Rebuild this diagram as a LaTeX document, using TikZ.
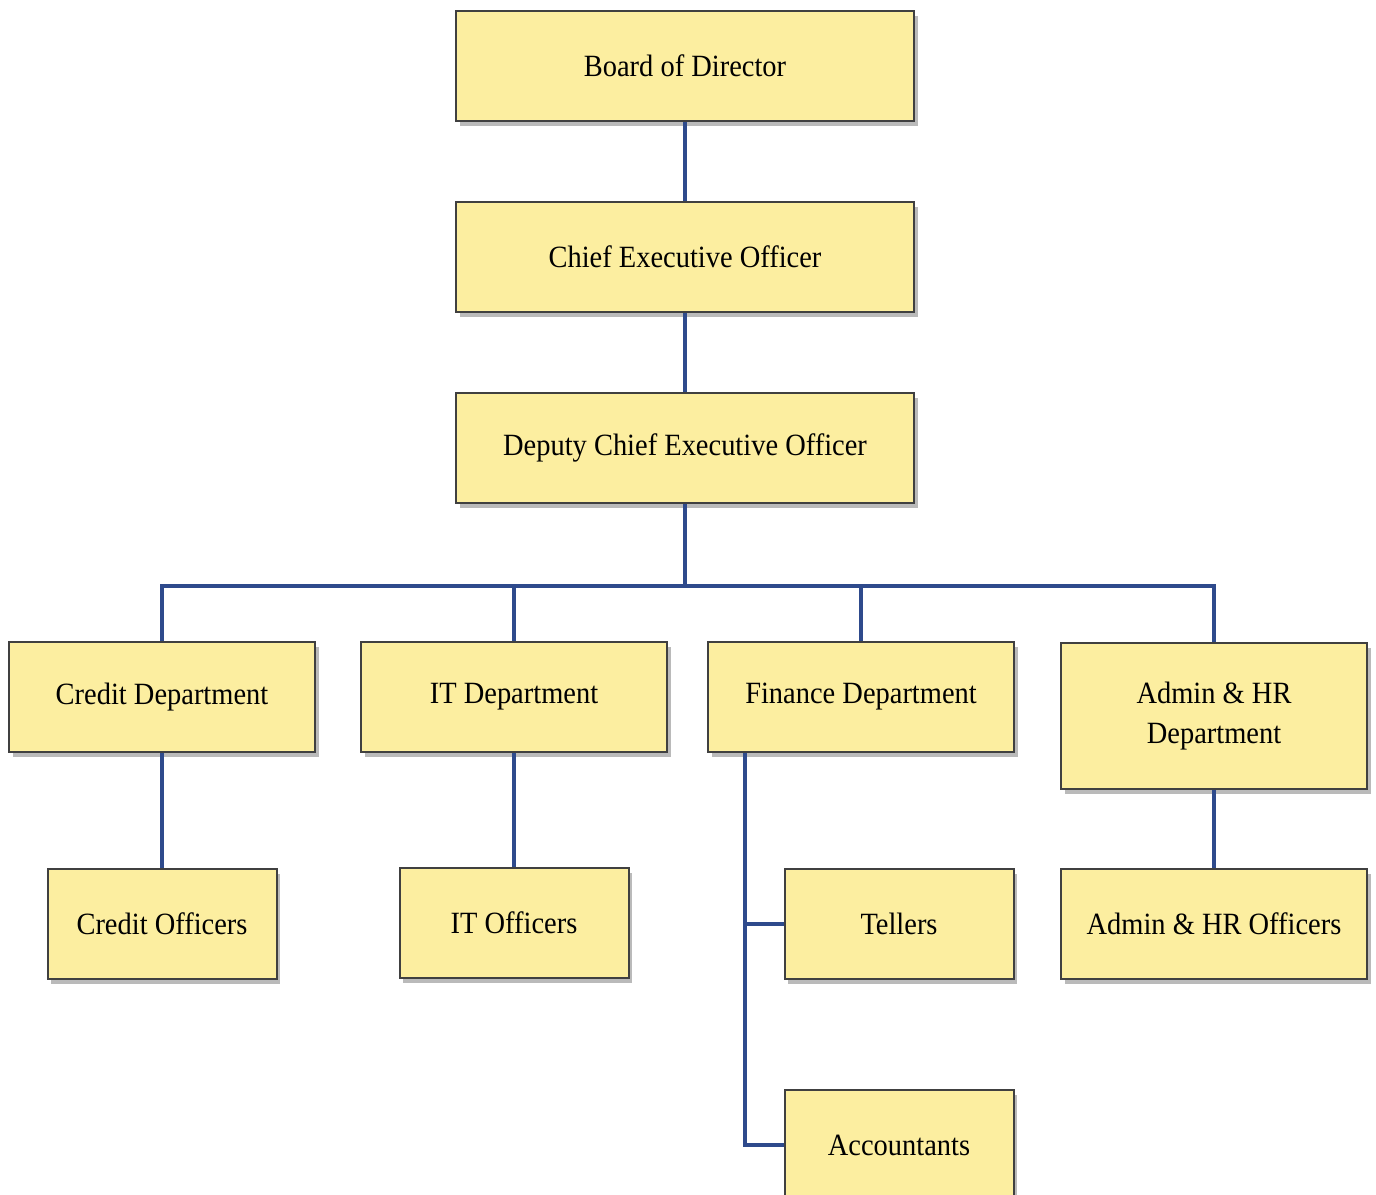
\documentclass[tikz,border=0pt]{standalone}
\usepackage{fontspec}
\setmainfont{Liberation Serif}[FakeStretch=0.92]
\usetikzlibrary{shadows}
\definecolor{boxfill}{RGB}{252,238,160}
\definecolor{linkblue}{RGB}{46,74,140}
\begin{document}
\begin{tikzpicture}[x=0.1mm,y=-0.1mm,
    box/.style={draw=black!75, line width=0.2mm, fill=boxfill, align=center,
        inner sep=0pt, minimum height=11mm,
        font=\fontsize{8.8}{11.4}\selectfont,
        drop shadow={shadow xshift=0.35mm, shadow yshift=-0.45mm, opacity=0.45, fill=black!60}},
    link/.style={draw=linkblue, line width=0.4mm}]
    \def\wtop{45.8mm} \def\wdep{30.6mm} \def\wsub{22.9mm} % Do rong
    \useasboundingbox (0,0) rectangle (1376,1194);
    % cap tren
    \node[box, minimum width=\wtop] (board) at (685,66) {Board of Director};
    \node[box, minimum width=\wtop] (ceo) at (685,257) {Chief Executive Officer};
    \node[box, minimum width=\wtop] (deputy) at (685,448) {Deputy Chief Executive Officer};
    % phong ban
    \node[box, minimum width=\wdep] (credit) at (162,697) {Credit Department};
    \node[box, minimum width=\wdep] (it) at (514,697) {IT Department};
    \node[box, minimum width=\wdep] (finance) at (861,697) {Finance Department};
    \node[box, minimum width=\wdep, minimum height=14.6mm] (admin) at (1214,716) {Admin \& HR\\Department};
    % nhan vien
    \node[box, minimum width=\wsub] (creditofc) at (162,924) {Credit Officers};
    \node[box, minimum width=\wsub] (itofc) at (514,923) {IT Officers};
    \node[box, minimum width=\wsub] (tellers) at (899,924) {Tellers};
    \node[box, minimum width=\wdep] (adminofc) at (1214,924) {Admin \& HR Officers};
    \node[box, minimum width=\wsub] (acct) at (899,1145) {Accountants};
    % duong noi
    \draw[link] (board) -- (ceo);
    \draw[link] (ceo) -- (deputy);
    \draw[link] (deputy.south) -- ++(0,82) coordinate (bus);
    \foreach \n in {credit,it,finance,admin} \draw[link] (bus) -| (\n.north);
    \draw[link] (credit) -- (creditofc);
    \draw[link] (it) -- (itofc);
    \draw[link] (admin) -- (adminofc);
    \coordinate (trunk) at ([xshift=3.8mm]finance.south west);
    \draw[link] (trunk) |- (tellers.west);
    \draw[link] (trunk) |- (acct.west);
\end{tikzpicture}
\end{document}
